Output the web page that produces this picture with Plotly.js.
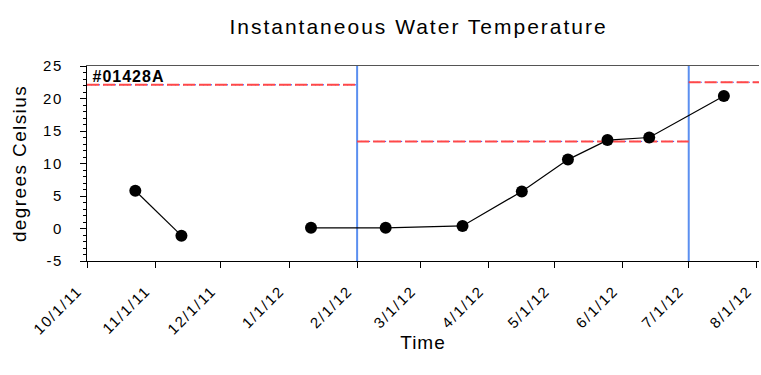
<!DOCTYPE html>
<html>
<head>
<meta charset="utf-8">
<script src="https://cdn.plot.ly/plotly-3.0.1.min.js"></script>
<style>
html,body{margin:0;padding:0;background:#fff;}
#chart{width:761px;height:375px;}
#chart .gtitle{letter-spacing:2px;}
#chart .xtick text{letter-spacing:1.8px;}
#chart .ytick text{letter-spacing:1.5px;}
#chart .ytitle{letter-spacing:1.4px;}
#chart .xtitle{letter-spacing:1px;}
#chart .annotation-text{letter-spacing:1px;}
</style>
</head>
<body>
<div id="chart"></div>
<script>
// Measured water temperature (null = gap in record)
const sampleDates = ['2011-10-23','2011-11-13',null,'2012-01-11','2012-02-14','2012-03-20','2012-04-16','2012-05-07','2012-05-25','2012-06-13','2012-07-17'];
const sampleTemps = [5.8,-1.1,null,0.1,0.1,0.4,5.7,10.6,13.6,14.0,20.4];

// Criteria (red dashed) segments
const criteriaStart = ['2011-10-01','2012-02-01','2012-07-01'];
const criteriaEnd   = ['2012-02-01','2012-07-01','2012-08-02'];
const criteriaValue = [22.1,13.4,22.5];

// Season boundaries (blue vertical lines)
const boundaryDates = ['2012-02-01','2012-07-01'];

// Axis ticks
const tickDates  = ['2011-10-01','2011-11-01','2011-12-01','2012-01-01','2012-02-01','2012-03-01','2012-04-01','2012-05-01','2012-06-01','2012-07-01','2012-08-01'];
const tickLabels = ['10/1/11','11/1/11','12/1/11','1/1/12','2/1/12','3/1/12','4/1/12','5/1/12','6/1/12','7/1/12','8/1/12'];
const yTickVals  = [-5,0,5,10,15,20,25];
const yTickText  = ['-5','0','5','10','15','20','25'];
const yRange = [-5,25];
const stationLabel = '#01428A';

const traces = [];
boundaryDates.forEach(d => {
  traces.push({x:[d,d], y:yRange, mode:'lines', line:{color:'#5b8ff0', width:2}, hoverinfo:'skip', showlegend:false});
});
criteriaStart.forEach((s,i) => {
  traces.push({x:[s,criteriaEnd[i]], y:[criteriaValue[i],criteriaValue[i]], mode:'lines', line:{color:'#2030ff', width:1, dash:'1px,3px'}, hoverinfo:'skip', showlegend:false});
  traces.push({x:[s,criteriaEnd[i]], y:[criteriaValue[i],criteriaValue[i]], mode:'lines', line:{color:'#ff4848', width:2, dash:'12px,4px'}, hoverinfo:'skip', showlegend:false});
});
traces.push({x:sampleDates, y:sampleTemps, mode:'lines+markers', connectgaps:false,
  line:{color:'#000', width:1.2}, marker:{color:'#000', size:12}, showlegend:false, cliponaxis:false});

const font = '"Liberation Sans", Arial, sans-serif';
const layout = {
  width:761, height:375,
  margin:{l:87, r:2, t:66, b:114},
  paper_bgcolor:'#fff', plot_bgcolor:'#fff',
  showlegend:false,
  font:{family:font, color:'#000'},
  title:{text:'Instantaneous Water Temperature', font:{size:21, family:font, color:'#000'}, x:0.55, xanchor:'center', y:0.93, yanchor:'middle'},
  xaxis:{
    type:'date', range:['2011-10-01','2012-08-02'],
    tickvals:tickDates, ticktext:tickLabels, tickangle:-45,
    tickfont:{size:15, family:font}, ticks:'outside', ticklen:6, tickcolor:'#000',
    ticklabelstandoff:8, ticklabelshift:-9, ticklabeloverflow:'allow',
    showline:true, linecolor:'#000', linewidth:1.2, mirror:false,
    showgrid:false, zeroline:false,
    title:{text:'Time', font:{size:19, family:font}, standoff:8}
  },
  xaxis2:{overlaying:'x', side:'top', showline:true, linecolor:'#555', linewidth:1.5, showticklabels:false, ticks:'', showgrid:false, zeroline:false, range:[0,1]},
  yaxis:{
    range:yRange, tickvals:yTickVals, ticktext:yTickText, ticks:'outside', ticklen:6, tickcolor:'#000',
    minor:{dtick:1, tick0:0, ticks:'outside', ticklen:3, tickcolor:'#000'},
    tickfont:{size:15, family:font}, ticklabelstandoff:14,
    showline:true, linecolor:'#000', linewidth:1.2,
    showgrid:false, zeroline:false,
    title:{text:'degrees Celsius', font:{size:19, family:font}, standoff:14}
  },
  annotations:[{text:'<b>'+stationLabel+'</b>', xref:'paper', yref:'paper', x:0.011, y:0.945, xanchor:'left', yanchor:'middle', showarrow:false, font:{size:16, family:font, color:'#000'}}]
};
traces.push({x:[0,1], y:[0,0], xaxis:'x2', mode:'none', hoverinfo:'skip', showlegend:false});
Plotly.newPlot('chart', traces, layout, {staticPlot:true});
</script>
</body>
</html>
